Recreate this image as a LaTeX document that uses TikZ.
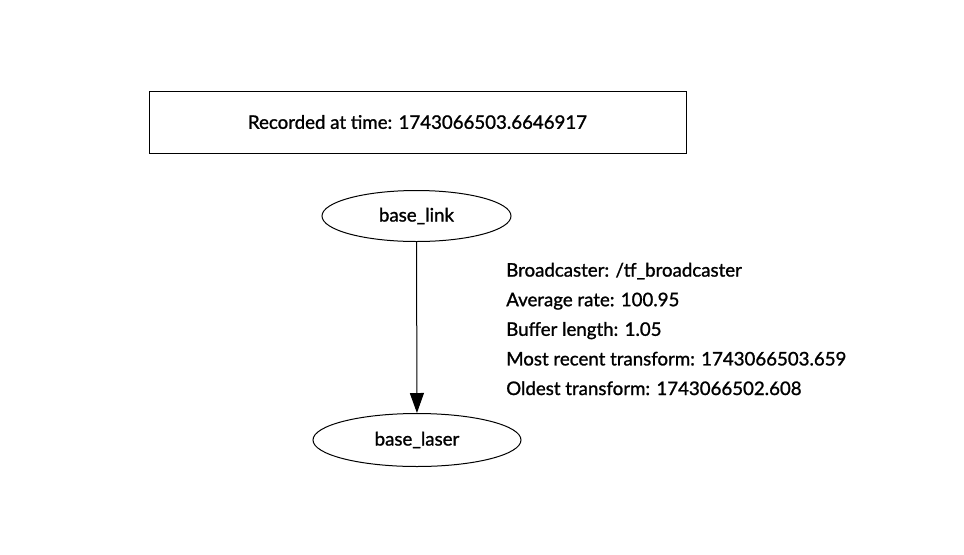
\documentclass[tikz,border=0pt]{standalone}
\usepackage{fontspec}
\setmainfont{Lato}[FakeBold=1.2]
\usetikzlibrary{arrows.meta, shapes.geometric, positioning}

\begin{document}
\begin{tikzpicture}[x=0.75pt, y=-0.75pt,
    every node/.style={font=\fontsize{14}{17}\selectfont, inner sep=0pt},
    framenode/.style={draw, line width=0.75pt, minimum width=402.75pt, minimum height=46.5pt},
    linknode/.style={ellipse, draw, line width=0.75pt}]
  \useasboundingbox (0,0) rectangle (964,554);

  \node[framenode] (stamp) at (417.5,122) {Recorded at time: 1743066503.6646917};

  \node[linknode, minimum width=141.75pt, minimum height=38.25pt] (base) at (416.5,216) {base\_link};
  \node[linknode, minimum width=156pt, minimum height=39.75pt] (laser) at (417,440) {base\_laser};

  \draw[-{Triangle[length=15pt, width=10.5pt]}, line width=0.75pt] (base) -- (laser);

  \node[anchor=west, align=left, font=\fontsize{14}{22.2}\selectfont] (info) at (506,329)
    {Broadcaster: /tf\_broadcaster\\
     Average rate: 100.95\\
     Buffer length: 1.05\\
     Most recent transform: 1743066503.659\\
     Oldest transform: 1743066502.608};
\end{tikzpicture}
\end{document}
